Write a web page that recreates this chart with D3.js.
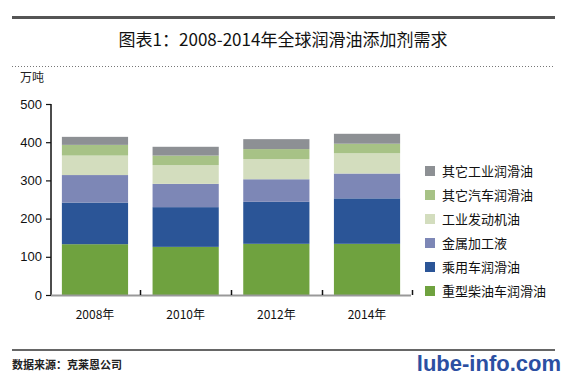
<!DOCTYPE html>
<html>
<head>
<meta charset="utf-8">
<script src="https://cdn.jsdelivr.net/npm/d3@7"></script>
<style>
  html, body { margin: 0; padding: 0; background: #fff; }
  svg { display: block; font-family: "Noto Sans CJK SC", "Noto Sans", sans-serif; }
</style>
</head>
<body>
<div id="chart"></div>
<script>
// --- dati (万吨) ---
const years = ["2008年", "2010年", "2012年", "2014年"];
const seriesNames = ["重型柴油车润滑油", "乘用车润滑油", "金属加工液", "工业发动机油", "其它汽车润滑油", "其它工业润滑油"];
const heavyDiesel   = [133, 126, 134, 134];
const passengerCar  = [109, 104, 110, 119];
const metalWorking  = [72, 61, 59, 65];
const industrialEng = [51, 49, 53, 53];
const otherAuto     = [28, 25, 26, 25];
const otherIndustry = [21, 23, 26, 26];
const yTicks = [0, 100, 200, 300, 400, 500];
const colors = ["#6fa23f", "#2b5597", "#7d87b6", "#d3ddbe", "#a7c286", "#8d9094"];

const W = 567, H = 375;
const svg = d3.select("#chart").append("svg").attr("width", W).attr("height", H);

// cornice superiore / titolo
svg.append("rect").attr("x", 12).attr("y", 16).attr("width", 543).attr("height", 3).attr("fill", "#555");
svg.append("text").attr("x", 283).attr("y", 46).attr("text-anchor", "middle")
  .attr("font-size", 17).attr("fill", "#111").text("图表1：2008-2014年全球润滑油添加剂需求");
svg.append("line").attr("x1", 12).attr("x2", 555).attr("y1", 66.5).attr("y2", 66.5)
  .attr("stroke", "#777").attr("stroke-width", 1).attr("stroke-dasharray", "1,2");

// scale
const x = d3.scaleBand().domain(years).range([51, 411]).paddingInner(0.27).paddingOuter(0.12);
const y = d3.scaleLinear().domain([0, 500]).range([295, 104]);

const table = years.map((yr, i) => ({
  year: yr,
  s0: heavyDiesel[i], s1: passengerCar[i], s2: metalWorking[i],
  s3: industrialEng[i], s4: otherAuto[i], s5: otherIndustry[i]
}));
const keys = ["s0", "s1", "s2", "s3", "s4", "s5"];
const stacked = d3.stack().keys(keys)(table);

const g = svg.append("g");
stacked.forEach((layer, k) => {
  g.append("g").attr("fill", colors[k])
    .selectAll("rect").data(layer).enter().append("rect")
    .attr("x", d => x(d.data.year))
    .attr("y", d => y(d[1]))
    .attr("width", x.bandwidth())
    .attr("height", d => y(d[0]) - y(d[1]));
});

// asse y
const yAxis = svg.append("g").attr("transform", "translate(51,0)")
  .call(d3.axisLeft(y).tickValues(yTicks).tickSize(5).tickPadding(4));
yAxis.select(".domain").attr("stroke", "#111").attr("stroke-width", 1.5).attr("d", "M0,104V295");
yAxis.selectAll(".tick line").attr("stroke", "#111").attr("stroke-width", 1.2);
yAxis.selectAll("text").attr("font-size", 13).attr("fill", "#111")
  .attr("font-family", "Liberation Sans, Arial, sans-serif");

svg.append("text").attr("x", 20).attr("y", 82).attr("font-size", 12).attr("fill", "#222").text("万吨");

// asse x
svg.append("line").attr("x1", 51).attr("x2", 411).attr("y1", 295.5).attr("y2", 295.5)
  .attr("stroke", "#999").attr("stroke-width", 2);
const step = x.step();
d3.range(1, years.length + 1).forEach(i => {
  const bx = Math.round(x(years[0]) - x.paddingInner() * step / 2 + i * step) + 0.5;
  svg.append("line").attr("x1", bx).attr("x2", bx).attr("y1", 290).attr("y2", 295)
    .attr("stroke", "#111").attr("stroke-width", 1.5);
});
svg.append("g").selectAll("text").data(years).enter().append("text")
  .attr("x", d => x(d) + x.bandwidth() / 2).attr("y", 319)
  .attr("text-anchor", "middle").attr("font-size", 12).attr("fill", "#111").text(d => d);

// legenda
const legendOrder = d3.range(seriesNames.length).reverse();
const leg = svg.append("g").selectAll("g").data(legendOrder).enter().append("g")
  .attr("transform", (d, i) => `translate(425,${171 + i * 24})`);
leg.append("rect").attr("x", 0).attr("y", -5).attr("width", 10).attr("height", 10).attr("fill", d => colors[d]);
leg.append("text").attr("x", 17).attr("y", 5).attr("font-size", 13).attr("fill", "#111").text(d => seriesNames[d]);

// piè di pagina
svg.append("rect").attr("x", 12).attr("y", 349).attr("width", 543).attr("height", 2).attr("fill", "#666");
svg.append("text").attr("x", 12).attr("y", 369).attr("font-size", 11).attr("font-weight", "bold")
  .attr("fill", "#222").text("数据来源：克莱恩公司");
svg.append("text").attr("x", 561).attr("y", 371).attr("text-anchor", "end").attr("font-size", 22)
  .attr("font-weight", "bold").attr("font-family", "Liberation Sans, Arial, sans-serif")
  .attr("fill", "#2b4fa2").text("lube-info.com");
</script>
</body>
</html>
